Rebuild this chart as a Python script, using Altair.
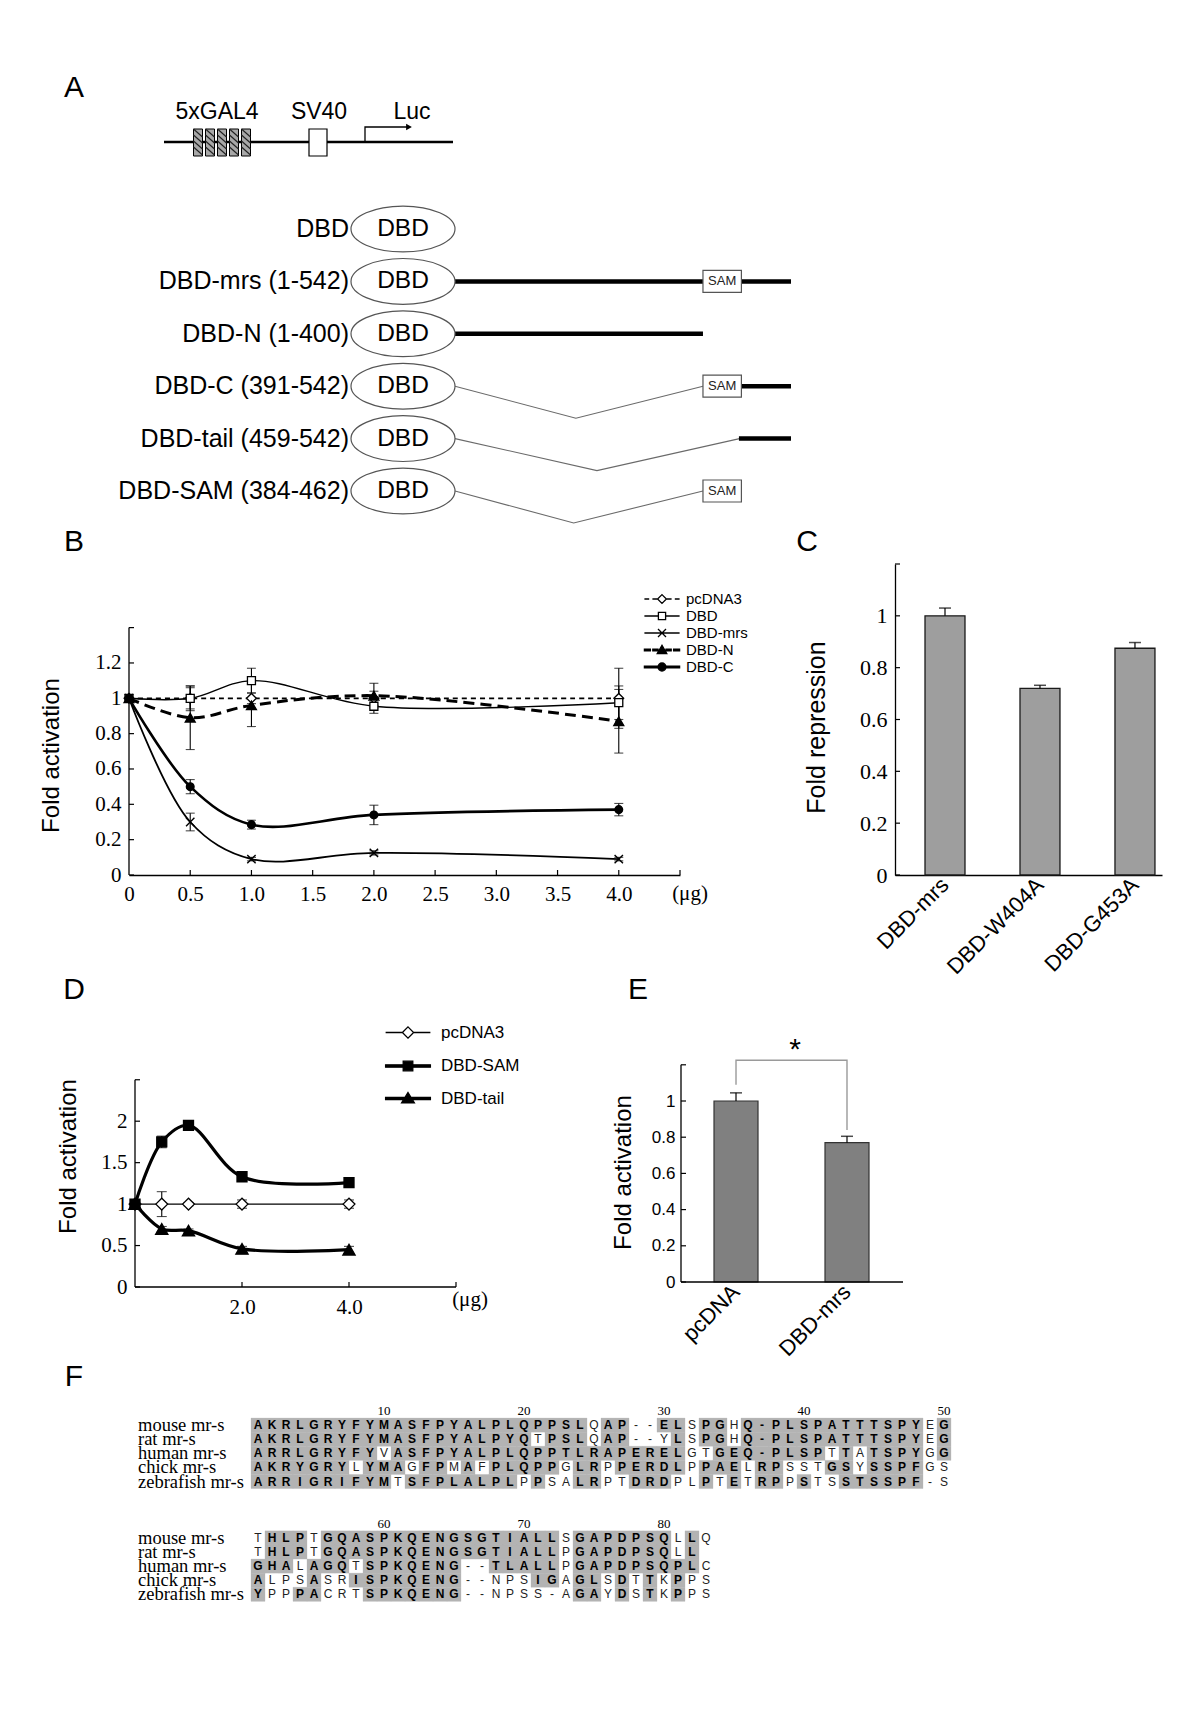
import altair as alt
import pandas as pd

SANS = "Liberation Sans, Arial, Helvetica, sans-serif"
SERIF = "Liberation Serif, Times New Roman, Times, serif"

# ---------------- Panel A : reporter schematic (schematic units) ----------------
REPORTER_SPAN = [35, 324]
GAL4_SITES = [69, 81, 93, 105, 117]
SV40_SPAN = [180, 198]
TSS_POS = 236
ARROW_TIP = 283
REPORTER_TEXT = ["5xGAL4", "SV40", "Luc"]
REPORTER_TEXT_POS = [88, 190, 283]

# ---------------- Panel A : constructs (mr-s residues) ----------------
CONSTRUCT_NAMES = ["DBD", "DBD-mrs (1-542)", "DBD-N (1-400)", "DBD-C (391-542)",
                   "DBD-tail (459-542)", "DBD-SAM (384-462)"]
CONSTRUCT_START = [0, 1, 1, 391, 459, 384]
CONSTRUCT_END = [0, 542, 400, 542, 542, 462]
SAM_DOMAIN = [400, 462]

# ---------------- Panel B ----------------
DOSE_UG = [0, 0.5, 1.0, 2.0, 4.0]
B_SERIES = ["pcDNA3", "DBD", "DBD-mrs", "DBD-N", "DBD-C"]
B_PCDNA3 = [1.0, 1.0, 1.0, 1.0, 1.0]
B_PCDNA3_ERR = [0, 0.07, 0.03, 0.04, 0.17]
B_DBD = [1.0, 1.0, 1.10, 0.955, 0.975]
B_DBD_ERR = [0, 0.06, 0.07, 0.04, 0.095]
B_DBD_MRS = [1.0, 0.30, 0.09, 0.125, 0.09]
B_DBD_MRS_ERR = [0, 0.05, 0.01, 0.012, 0.01]
B_DBD_N = [1.0, 0.89, 0.96, 1.015, 0.87]
B_DBD_N_ERR = [0, 0.18, 0.12, 0.07, 0.18]
B_DBD_C = [1.0, 0.50, 0.285, 0.34, 0.37]
B_DBD_C_ERR = [0, 0.04, 0.025, 0.055, 0.035]
B_X_TICKS = [0, 0.5, 1.0, 1.5, 2.0, 2.5, 3.0, 3.5, 4.0]
B_Y_TICKS = [0, 0.2, 0.4, 0.6, 0.8, 1.0, 1.2]

# ---------------- Panel C ----------------
C_GROUPS = ["DBD-mrs", "DBD-W404A", "DBD-G453A"]
C_VALUES = [1.0, 0.72, 0.875]
C_ERR = [0.03, 0.012, 0.022]
C_Y_TICKS = [0, 0.2, 0.4, 0.6, 0.8, 1.0]

# ---------------- Panel D ----------------
D_SERIES = ["pcDNA3", "DBD-SAM", "DBD-tail"]
D_PCDNA3 = [1.0, 1.0, 1.0, 1.0, 1.0]
D_PCDNA3_ERR = [0, 0.15, 0.02, 0.05, 0.05]
D_DBD_SAM = [1.0, 1.75, 1.95, 1.33, 1.26]
D_DBD_SAM_ERR = [0, 0.07, 0.03, 0.04, 0.03]
D_DBD_TAIL = [1.0, 0.70, 0.68, 0.46, 0.45]
D_DBD_TAIL_ERR = [0, 0.03, 0.02, 0.03, 0.04]
D_X_TICKS = [2.0, 4.0]
D_Y_TICKS = [0, 0.5, 1.0, 1.5, 2.0]

# ---------------- Panel E ----------------
E_GROUPS = ["pcDNA", "DBD-mrs"]
E_VALUES = [1.0, 0.77]
E_ERR = [0.045, 0.035]
E_Y_TICKS = [0, 0.2, 0.4, 0.6, 0.8, 1.0]
E_SIG_GROUPS = ["pcDNA", "pcDNA", "DBD-mrs", "DBD-mrs"]
E_SIG_Y = [1.09, 1.225, 1.225, 0.84]
E_SIG_LABEL = "*"

# ---------------- Panel F ----------------
F_SPECIES = ["mouse mr-s", "rat mr-s", "human mr-s", "chick mr-s", "zebrafish mr-s"]
F_BLOCK1 = [
    "AKRLGRYFYMASFPYALPLQPPSLQAP--ELSPGHQ-PLSPATTTSPYEG",
    "AKRLGRYFYMASFPYALPYQTPSLQAP--YLSPGHQ-PLSPATTTSPYEG",
    "ARRLGRYFYVASFPYALPLQPPTLRAPERELGTGEQ-PLSPTTATSPYGG",
    "AKRYGRYLYMAGFPMAFPLQPPGLRPPERDLPPAELRPSSTGSYSSPFGS",
    "ARRIGRIFYMTSFPLALPLPPSALRPTDRDPLPTETRPPSTSSTSSPF-S",
]
F_BLOCK1_SHADE = [
    "111111111111111111111111" "0" "11" "00" "11" "0" "11" "0" "1" "1" "11111111111" "0" "1",
    "11111111111111111111" "0" "111" "0" "11" "000" "1" "0" "11" "0" "1" "1" "11111111111" "0" "1",
    "111111111" "0" "111111111111111111111" "00" "111" "1" "1111" "0" "1" "0" "1111" "0" "1",
    "1111111" "0" "111" "0" "11" "0" "1" "0" "11111" "0" "11" "0" "11111" "0" "111" "0" "11" "000" "11" "0" "1111" "00",
    "1111111111" "0" "11111111" "0" "1" "00" "11" "00" "111" "00" "1" "0" "1" "0" "11" "0" "1" "00" "111111" "00",
]
F_BLOCK2 = [
    "THLPTGQASPKQENGSGTIALLSGAPDPSQLLQ",
    "THLPTGQASPKQENGSGTIALLPGAPDPSQLL",
    "GHALAGQTSPKQENG--TLALLPGAPDPSQPLC",
    "ALPSASRISPKQENG--NPSIGAGLSDTTKPPS",
    "YPPPACRTSPKQENG--NPSS-AGAYDSTKPPS",
]
F_BLOCK2_SHADE = [
    "0" "111" "0" "11111111111111111" "0" "1111111" "0" "1" "0",
    "0" "111" "0" "11111111111111111" "0" "1111111" "0" "1",
    "111" "0" "111" "0" "1111111" "00" "11111" "0" "111111111" "0",
    "1" "000" "1" "00" "1" "1111111" "00" "000" "11" "0" "11" "0" "1" "0" "1" "0" "1" "00",
    "1" "00" "11" "000" "1111111" "00" "000000" "11" "0" "1" "0" "1" "0" "1" "00",
]
F_BLOCK1_NUMBERS = [10, 20, 30, 40, 50]
F_BLOCK2_NUMBERS = [60, 70, 80]

# ---------------- layout (pixels) ----------------
ROW_GAP, COL_GAP = 163, 1
A_W, A_H = 551, 301
REP_Y, BOX_TOP, BOX_BOT, ARROW_Y, TEXT_Y = 42, 29, 56, 27, 12
K_ORIGIN = 326
K_RES_PX = 336 / 542
K_ROW_PX = 52.4
K_ROW0_PX = 129
K_DIP = 0.61
ELL_W = 104
B_W, B_H, B_UNIT = 551, 311, 176.7
C_W, C_H = 267, 311
D_W, D_H, D_UNIT, D_YUNIT, D_OFF = 320, 249, 53.5, 82.9, 6
E_W, E_H, E_UNIT = 213, 244, 181
F_W, F_H = 551, 160
F_COL_PX, F_LINE_PX, F_LINE0_PX, F_NAME_W = 14, 14.1, -39, 122


def letter(ch, dx, dy):
    return alt.Chart(pd.DataFrame({"t": [ch]})).mark_text(
        font=SANS, fontSize=30, align="center", baseline="middle", color="black"
    ).encode(text="t:N", x=alt.value(dx), y=alt.value(dy))


def spacer(h):
    return alt.Chart(pd.DataFrame({"t": [""]})).mark_text().encode(
        text="t:N", x=alt.value(0), y=alt.value(0)).properties(width=1, height=h)


# ======================= Panel A (reporter + constructs) =======================
px = alt.Scale(domain=[0, A_W], nice=False, zero=False)
py = alt.Scale(domain=[0, A_H], nice=False, zero=False, reverse=True)


def PX(f):
    return alt.X(f, type="quantitative", scale=px, axis=None)


def PY(f):
    return alt.Y(f, type="quantitative", scale=py, axis=None)


rep_line = alt.Chart(pd.DataFrame({"x": [REPORTER_SPAN[0]], "x2": [REPORTER_SPAN[1]], "y": [REP_Y]})).mark_rule(
    strokeWidth=2.6, color="black").encode(x=PX("x"), x2="x2:Q", y=PY("y"))
gal4_df = pd.DataFrame({"x": [s - 4.5 for s in GAL4_SITES], "x2": [s + 4.5 for s in GAL4_SITES],
                        "y": BOX_TOP, "y2": BOX_BOT})
gal4 = alt.Chart(gal4_df).mark_rect(fill="#a8a8a8", stroke="black", strokeWidth=1).encode(
    x=PX("x"), x2="x2:Q", y=PY("y"), y2="y2:Q")
hatch_rows = []
for s in GAL4_SITES:
    for t in range(BOX_TOP, BOX_BOT - 8, 6):
        hatch_rows.append({"x": s - 4.5, "x2": s + 4.5, "y": t, "y2": t + 8})
hatch = alt.Chart(pd.DataFrame(hatch_rows)).mark_rule(color="#222222", strokeWidth=1.1).encode(
    x=PX("x"), x2="x2:Q", y=PY("y"), y2="y2:Q")
sv40 = alt.Chart(pd.DataFrame({"x": [SV40_SPAN[0]], "x2": [SV40_SPAN[1]], "y": [BOX_TOP], "y2": [BOX_BOT]})).mark_rect(
    fill="white", stroke="black", strokeWidth=1.2).encode(x=PX("x"), x2="x2:Q", y=PY("y"), y2="y2:Q")
arrow_df = pd.DataFrame({"x": [TSS_POS, TSS_POS, ARROW_TIP - 5], "y": [REP_Y, ARROW_Y, ARROW_Y], "k": [0, 1, 2]})
arrow = alt.Chart(arrow_df).mark_line(color="black", strokeWidth=1.3).encode(x=PX("x"), y=PY("y"), order="k:Q")
arrow_head = alt.Chart(pd.DataFrame({"x": [ARROW_TIP - 3], "y": [ARROW_Y]})).mark_point(
    shape="triangle-right", filled=True, color="black", size=45, opacity=1).encode(x=PX("x"), y=PY("y"))
rep_text = alt.Chart(pd.DataFrame({"t": REPORTER_TEXT, "x": REPORTER_TEXT_POS, "y": TEXT_Y})).mark_text(
    font=SANS, fontSize=23, baseline="middle", color="black").encode(x=PX("x"), y=PY("y"), text="t:N")

kx = alt.Scale(domain=[-K_ORIGIN / K_RES_PX, (A_W - K_ORIGIN) / K_RES_PX], nice=False, zero=False)
ky = alt.Scale(domain=[-K_ROW0_PX / K_ROW_PX, (A_H - K_ROW0_PX) / K_ROW_PX], nice=False, zero=False,
               reverse=True)


def KX(f):
    return alt.X(f, type="quantitative", scale=kx, axis=None)


def KY(f):
    return alt.Y(f, type="quantitative", scale=ky, axis=None)


rows_df = pd.DataFrame({"name": CONSTRUCT_NAMES, "row": list(range(len(CONSTRUCT_NAMES))), "dbd": "DBD"})
thick, vlines, sams = [], [], []
for i, (s, e) in enumerate(zip(CONSTRUCT_START, CONSTRUCT_END)):
    if e == 0:
        continue
    has_sam = s <= SAM_DOMAIN[0] + 5 and e >= SAM_DOMAIN[1]
    if has_sam:
        sams.append({"row": i, "x": SAM_DOMAIN[0], "x2": SAM_DOMAIN[1],
                     "xm": (SAM_DOMAIN[0] + SAM_DOMAIN[1]) / 2, "y": i - 0.21, "y2": i + 0.21, "t": "SAM"})
        if SAM_DOMAIN[0] - s > 50:
            thick.append({"row": i, "x": s - 1, "x2": e})
        elif e > SAM_DOMAIN[1]:
            thick.append({"row": i, "x": SAM_DOMAIN[1], "x2": e})
        join = SAM_DOMAIN[0]
    else:
        thick.append({"row": i, "x": s - 1, "x2": e})
        join = s
    if s > 1:
        for k, (xx, dy) in enumerate([(0, 0), ((s - 1) / 2, K_DIP), (join, 0)]):
            vlines.append({"row": i, "k": k, "x": xx, "y": i + dy})

k_v = alt.Chart(pd.DataFrame(vlines)).mark_line(color="#6a6a6a", strokeWidth=1.1).encode(
    x=KX("x"), y=KY("y"), detail="row:N", order="k:Q")
k_thick = alt.Chart(pd.DataFrame(thick)).mark_rule(color="black", strokeWidth=4.5, strokeCap="butt").encode(
    x=KX("x"), x2="x2:Q", y=KY("row"))
ELLIPSE = "M-1,0A1,0.44,0,1,1,1,0A1,0.44,0,1,1,-1,0Z"
k_ell = alt.Chart(rows_df).mark_point(shape=ELLIPSE, size=ELL_W * ELL_W, filled=True, fill="white",
                                      stroke="#555555", strokeWidth=1.2, opacity=1).encode(
    x=alt.value(K_ORIGIN - ELL_W / 2), y=KY("row"))
k_dbd = alt.Chart(rows_df).mark_text(font=SANS, fontSize=24.5, baseline="middle", color="black").encode(
    x=alt.value(K_ORIGIN - ELL_W / 2), y=KY("row"), text="dbd:N")
k_lab = alt.Chart(rows_df).mark_text(font=SANS, fontSize=25, align="right", baseline="middle",
                                     color="black").encode(
    x=alt.value(K_ORIGIN - ELL_W - 2), y=KY("row"), text="name:N")
sam_df = pd.DataFrame(sams)
k_sam = alt.Chart(sam_df).mark_rect(fill="white", stroke="#555555", strokeWidth=1.2).encode(
    x=KX("x"), x2="x2:Q", y=KY("y"), y2="y2:Q")
k_samt = alt.Chart(sam_df).mark_text(font=SANS, fontSize=13, baseline="middle", color="#222222").encode(
    x=KX("xm"), y=KY("row"), text="t:N")
A_chart = alt.layer(
    rep_line, gal4, hatch, sv40, arrow, arrow_head, rep_text,
    k_v, k_thick, k_ell, k_dbd, k_lab, k_sam, k_samt, letter("A", -55, -12)
).resolve_scale(x="independent", y="independent").properties(width=A_W, height=A_H)


# ======================= dose-response helpers =======================
def dose_frame(name, vals, errs):
    return pd.DataFrame({"dose": DOSE_UG, "value": vals, "err": errs, "series": name})


def curve_layers(frames, styles, XE, YE, cap):
    lines, errs, pts = [], [], []
    for df, st in zip(frames, styles):
        kw = dict(color="black", strokeWidth=st["width"], interpolate="catmull-rom")
        if st.get("dash"):
            kw["strokeDash"] = st["dash"]
        lines.append(alt.Chart(df).mark_line(**kw).encode(x=XE("dose"), y=YE("value")))
        e = df[df["err"] > 0].copy()
        e["lo"] = e["value"] - e["err"]
        e["hi"] = e["value"] + e["err"]
        errs.append(alt.Chart(e).mark_rule(color="black", strokeWidth=1.1).encode(
            x=XE("dose"), y=YE("lo"), y2="hi:Q"))
        caps = pd.concat([e[["dose"]].assign(cap=e["lo"]), e[["dose"]].assign(cap=e["hi"])])
        errs.append(alt.Chart(caps).mark_tick(orient="horizontal", size=cap, thickness=1.1,
                                              color="black").encode(x=XE("dose"), y=YE("cap")))
        if st["fill"] == "none":
            pts.append(alt.Chart(df).mark_point(shape=st["shape"], size=st["size"], filled=False,
                                                color="black", strokeWidth=1.4, opacity=1).encode(
                x=XE("dose"), y=YE("value")))
        else:
            pts.append(alt.Chart(df).mark_point(shape=st["shape"], size=st["size"], filled=True,
                                                fill=st["fill"], stroke="black", strokeWidth=1.3,
                                                opacity=1).encode(x=XE("dose"), y=YE("value")))
    return lines + errs + pts


def inward_ticks(vals_y, vals_x, XE, YE, h, x0=0):
    out = []
    if vals_y:
        out.append(alt.Chart(pd.DataFrame({"v": vals_y})).mark_rule(color="black", strokeWidth=1.2).encode(
            y=YE("v"), x=alt.value(x0), x2=alt.value(x0 + 5)))
    if vals_x:
        out.append(alt.Chart(pd.DataFrame({"v": vals_x})).mark_rule(color="black", strokeWidth=1.2).encode(
            x=XE("v"), y=alt.value(h), y2=alt.value(h - 5)))
    return out


def legend_layer(series, paths, fills, legend_def):
    n = len(series)
    return alt.Chart(pd.DataFrame({"series": series})).mark_point(
        filled=True, opacity=0, stroke="black", strokeWidth=1.3).encode(
        shape=alt.Shape("series:N", scale=alt.Scale(domain=series, range=paths), legend=legend_def),
        fill=alt.Fill("series:N", scale=alt.Scale(domain=series, range=fills), legend=legend_def),
        stroke=alt.Stroke("series:N", scale=alt.Scale(domain=series, range=["black"] * n), legend=legend_def),
    )


# ======================= Panel B =======================
bxs = alt.Scale(domain=[0, 4.5], nice=False, zero=False)
bys = alt.Scale(domain=[0, B_H / B_UNIT], nice=False, zero=False)
b_xaxis = alt.Axis(values=B_X_TICKS, labelExpr="datum.value == 0 ? '0' : format(datum.value, '.1f')",
                   domain=True, domainColor="black", domainWidth=1.3, ticks=False, grid=False,
                   labelFont=SERIF, labelFontSize=21, labelColor="black", labelPadding=8,
                   labelFlush=False, labelOverlap=False, title=None)
b_yaxis = alt.Axis(values=B_Y_TICKS, format=".1~f", domain=False, ticks=False, grid=False,
                   labelFont=SERIF, labelFontSize=21, labelColor="black", labelPadding=8,
                   labelOverlap=False, title="Fold activation", titleFont=SANS, titleFontSize=24,
                   titleFontWeight="normal", titleColor="black", titleX=-78, titleY=191,
                   titleAlign="center", titleBaseline="middle", titleAngle=-90)


def BX(f):
    return alt.X(f, type="quantitative", scale=bxs, axis=b_xaxis)


def BY(f):
    return alt.Y(f, type="quantitative", scale=bys, axis=b_yaxis)


X_PATH = "M-1,-1L1,1M-1,1L1,-1"
B_STYLES = [
    dict(dash=[5, 4], width=1.8, shape="diamond", size=95, fill="white"),
    dict(dash=None, width=1.4, shape="square", size=64, fill="white"),
    dict(dash=None, width=1.8, shape=X_PATH, size=70, fill="none"),
    dict(dash=[11, 6], width=3.0, shape="triangle-up", size=100, fill="black"),
    dict(dash=None, width=2.6, shape="circle", size=60, fill="black"),
]
b_frames = [dose_frame(n, v, e) for n, v, e in zip(
    B_SERIES, [B_PCDNA3, B_DBD, B_DBD_MRS, B_DBD_N, B_DBD_C],
    [B_PCDNA3_ERR, B_DBD_ERR, B_DBD_MRS_ERR, B_DBD_N_ERR, B_DBD_C_ERR])]

B_LEGEND_PATHS = [
    "M-2.2,0H-1.6M-1.2,0H-0.6M0.6,0H1.2M1.6,0H2.2M0,-0.55L0.55,0L0,0.55L-0.55,0Z",
    "M-2.2,0H-0.45M0.45,0H2.2M-0.45,-0.45H0.45V0.45H-0.45Z",
    "M-2.2,0H2.2M-0.5,-0.5L0.5,0.5M-0.5,0.5L0.5,-0.5",
    "M-2.2,-0.12H-1.45V0.12H-2.2Z M-1.15,-0.12H-0.5V0.12H-1.15Z M0.5,-0.12H1.15V0.12H0.5Z "
    "M1.45,-0.12H2.2V0.12H1.45Z M0,-0.6L0.6,0.45L-0.6,0.45Z",
    "M-2.2,-0.12H2.2V0.12H-2.2Z M-0.5,0A0.5,0.5,0,1,1,0.5,0A0.5,0.5,0,1,1,-0.5,0Z",
]
B_LEGEND_FILLS = ["white", "white", "white", "black", "black"]
b_leg_def = alt.Legend(orient="none", legendX=524, legendY=26, title=None, symbolSize=256,
                       symbolStrokeWidth=1.3, symbolOpacity=1,
                       labelFont=SANS, labelFontSize=15, labelColor="black", labelOffset=15,
                       rowPadding=0, padding=0)
b_dom = alt.Chart(pd.DataFrame({"lo": [0], "hi": [1.4]})).mark_rule(color="black", strokeWidth=1.3).encode(
    x=alt.value(0), y=BY("lo"), y2="hi:Q")
b_mu = alt.Chart(pd.DataFrame({"t": ["(μg)"]})).mark_text(font=SERIF, fontSize=21, baseline="top",
                                                          dx=10, color="black").encode(
    x=alt.X(datum=4.5, type="quantitative", scale=bxs, axis=b_xaxis), y=alt.value(B_H + 8), text="t:N")
B_chart = alt.layer(
    *curve_layers(b_frames, B_STYLES, BX, BY, 9),
    b_dom, *inward_ticks(B_Y_TICKS + [1.4], [0.5, 1, 1.5, 2, 2.5, 3, 3.5, 4, 4.5], BX, BY, B_H),
    b_mu, letter("B", -55, -22),
    legend_layer(B_SERIES, B_LEGEND_PATHS, B_LEGEND_FILLS, b_leg_def),
).properties(width=B_W, height=B_H)

# ======================= Panel C =======================
cxs = alt.Scale(domain=C_GROUPS, paddingInner=0.579, paddingOuter=0.195, align=0.81)
cys = alt.Scale(domain=[0, 1.2], nice=False, zero=False)
c_xaxis = alt.Axis(labelAngle=-45, labelAlign="right", labelBaseline="middle", labelFont=SANS,
                   labelFontSize=22, labelColor="black", labelPadding=6, ticks=False, domain=True,
                   domainColor="black", domainWidth=1.3, title=None, labelLimit=300, grid=False)
c_yaxis = alt.Axis(values=C_Y_TICKS, format=".1~f", domain=True, domainColor="black", domainWidth=1.3,
                   ticks=False, grid=False, labelFont=SERIF, labelFontSize=22, labelColor="black",
                   labelPadding=8, title="Fold repression", titleFont=SANS, titleFontSize=25,
                   titleFontWeight="normal", titleColor="black", titleX=-79, titleY=163,
                   titleAlign="center", titleBaseline="middle", titleAngle=-90)


def CX(f):
    return alt.X(f, type="nominal", scale=cxs, axis=c_xaxis)


def CY(f):
    return alt.Y(f, type="quantitative", scale=cys, axis=c_yaxis)


c_df = pd.DataFrame({"g": C_GROUPS, "v": C_VALUES, "e": C_ERR})
c_df["hi"] = c_df["v"] + c_df["e"]
c_bars = alt.Chart(c_df).mark_bar(fill="#9e9e9e", stroke="#1a1a1a", strokeWidth=1.3).encode(
    x=CX("g"), y=CY("v"))
c_err = alt.Chart(c_df).mark_rule(color="black", strokeWidth=1.2).encode(x=CX("g"), y=CY("v"), y2="hi:Q")
c_cap = alt.Chart(c_df).mark_tick(orient="horizontal", size=12, thickness=1.5, color="black").encode(
    x=CX("g"), y=CY("hi"))
C_chart = alt.layer(
    c_bars, c_err, c_cap, *inward_ticks(C_Y_TICKS + [1.2], None, CX, CY, C_H), letter("C", -88, -22)
).properties(width=C_W, height=C_H)

# ======================= Panel D =======================
dxs = alt.Scale(domain=[-D_OFF / D_UNIT, (D_W - D_OFF) / D_UNIT], nice=False, zero=False)
dys = alt.Scale(domain=[0, D_H / D_YUNIT], nice=False, zero=False)
d_xaxis = alt.Axis(values=D_X_TICKS, format=".1f", domain=False, ticks=False, grid=False,
                   labelFont=SERIF, labelFontSize=21, labelColor="black",
                   labelPadding=9, labelFlush=False, labelOverlap=False, title=None)
d_yaxis = alt.Axis(values=D_Y_TICKS, format=".1~f", domain=False, ticks=False, grid=False,
                   offset=-D_OFF, labelFont=SERIF, labelFontSize=21, labelColor="black",
                   labelPadding=8, labelOverlap=False, title="Fold activation", titleFont=SANS,
                   titleFontSize=24, titleFontWeight="normal", titleColor="black", titleX=-67, titleY=118,
                   titleAlign="center", titleBaseline="middle", titleAngle=-90)


def DX(f):
    return alt.X(f, type="quantitative", scale=dxs, axis=d_xaxis)


def DY(f):
    return alt.Y(f, type="quantitative", scale=dys, axis=d_yaxis)


D_STYLES = [
    dict(dash=None, width=1.4, shape="diamond", size=140, fill="white"),
    dict(dash=None, width=3.2, shape="square", size=100, fill="black"),
    dict(dash=None, width=3.2, shape="triangle-up", size=150, fill="black"),
]
d_frames = [dose_frame(n, v, e) for n, v, e in zip(
    D_SERIES, [D_PCDNA3, D_DBD_SAM, D_DBD_TAIL], [D_PCDNA3_ERR, D_DBD_SAM_ERR, D_DBD_TAIL_ERR])]
D_LEGEND_PATHS = [
    "M-2.8,0H-0.7M0.7,0H2.8M0,-0.7L0.7,0L0,0.7L-0.7,0Z",
    "M-2.8,-0.15H2.8V0.15H-2.8Z M-0.6,-0.6H0.6V0.6H-0.6Z",
    "M-2.8,-0.15H2.8V0.15H-2.8Z M0,-0.75L0.8,0.55L-0.8,0.55Z",
]
D_LEGEND_FILLS = ["white", "black", "black"]
d_leg_def = alt.Legend(orient="none", legendX=270, legendY=-14.5, title=None, symbolSize=256,
                       symbolStrokeWidth=1.3, symbolOpacity=1,
                       labelFont=SANS, labelFontSize=17, labelColor="black", labelOffset=24,
                       rowPadding=15.5, padding=0)
d_xdom = alt.Chart(pd.DataFrame({"lo": [0], "hi": [6]})).mark_rule(color="black", strokeWidth=1.3).encode(
    y=alt.value(D_H), x=DX("lo"), x2="hi:Q")
d_ydom = alt.Chart(pd.DataFrame({"lo": [0], "hi": [2.5]})).mark_rule(color="black", strokeWidth=1.3).encode(
    x=alt.value(D_OFF), y=DY("lo"), y2="hi:Q")
d_mu = alt.Chart(pd.DataFrame({"t": ["(μg)"]})).mark_text(font=SERIF, fontSize=21, baseline="top",
                                                          dx=14, color="black").encode(
    x=alt.X(datum=6, type="quantitative", scale=dxs, axis=d_xaxis), y=alt.value(D_H + 2), text="t:N")
D_chart = alt.layer(
    *curve_layers(d_frames, D_STYLES, DX, DY, 10),
    d_xdom, d_ydom, *inward_ticks([0, 0.5, 1.0, 1.5, 2.0, 2.5], [2, 4, 6], DX, DY, D_H, D_OFF),
    d_mu, letter("D", -55, -48),
    legend_layer(D_SERIES, D_LEGEND_PATHS, D_LEGEND_FILLS, d_leg_def),
).properties(width=D_W, height=D_H)

# ======================= Panel E =======================
exs = alt.Scale(domain=E_GROUPS, paddingInner=0.6036, paddingOuter=0.2613, align=0.569)
eys = alt.Scale(domain=[0, E_H / E_UNIT], nice=False, zero=False)
e_xaxis = alt.Axis(labelAngle=-45, labelAlign="right", labelBaseline="middle", labelFont=SANS,
                   labelFontSize=22, labelColor="black", labelPadding=6, ticks=False, domain=False,
                   title=None, labelLimit=300, grid=False)
e_yaxis = alt.Axis(values=E_Y_TICKS, format=".1~f", domain=False, ticks=False, grid=False,
                   labelFont=SANS, labelFontSize=17, labelColor="black", labelPadding=6,
                   title="Fold activation", titleFont=SANS, titleFontSize=24, titleFontWeight="normal",
                   titleColor="black", titleX=-58, titleY=134, titleAlign="center",
                   titleBaseline="middle", titleAngle=-90)


def EX(f):
    return alt.X(f, type="nominal", scale=exs, axis=e_xaxis)


def EY(f):
    return alt.Y(f, type="quantitative", scale=eys, axis=e_yaxis)


e_df = pd.DataFrame({"g": E_GROUPS, "v": E_VALUES, "e": E_ERR})
e_df["hi"] = e_df["v"] + e_df["e"]
e_bars = alt.Chart(e_df).mark_bar(fill="#808080", stroke="#333333", strokeWidth=1.2).encode(
    x=EX("g"), y=EY("v"))
e_err = alt.Chart(e_df).mark_rule(color="black", strokeWidth=1.2).encode(x=EX("g"), y=EY("v"), y2="hi:Q")
e_cap = alt.Chart(e_df).mark_tick(orient="horizontal", size=12, thickness=1.5, color="black").encode(
    x=EX("g"), y=EY("hi"))
e_dom = alt.Chart(pd.DataFrame({"lo": [0], "hi": [1.2]})).mark_rule(color="black", strokeWidth=1.3).encode(
    x=alt.value(0), y=EY("lo"), y2="hi:Q")
e_base = alt.Chart(pd.DataFrame({"lo": [0]})).mark_rule(color="black", strokeWidth=1.3).encode(
    x=alt.value(0), x2=alt.value(222), y=EY("lo"))
e_sig = alt.Chart(pd.DataFrame({"g": E_SIG_GROUPS, "y": E_SIG_Y, "k": [0, 1, 2, 3]})).mark_line(
    color="#9a9a9a", strokeWidth=1.4).encode(x=EX("g"), y=EY("y"), order="k:Q")
e_star = alt.Chart(pd.DataFrame({"t": [E_SIG_LABEL]})).mark_text(
    font=SANS, fontSize=30, baseline="alphabetic", color="black").encode(
    x=alt.value(114), y=alt.Y(datum=1.232, type="quantitative", scale=eys, axis=e_yaxis), text="t:N")
E_chart = alt.layer(
    e_bars, e_err, e_cap, e_dom, e_base, e_sig, e_star,
    *inward_ticks(E_Y_TICKS + [1.2], None, EX, EY, E_H), letter("E", -43, -48)
).properties(width=E_W, height=E_H)

# ======================= Panel F =======================
F_X0 = 0.5 - F_NAME_W / F_COL_PX
fxs = alt.Scale(domain=[F_X0, F_X0 + F_W / F_COL_PX], nice=False, zero=False)
fys = alt.Scale(domain=[-F_LINE0_PX / F_LINE_PX, (F_H - F_LINE0_PX) / F_LINE_PX], nice=False, zero=False,
                reverse=True)


def FX(f):
    return alt.X(f, type="quantitative", scale=fxs, axis=None)


def FY(f):
    return alt.Y(f, type="quantitative", scale=fys, axis=None)


cells, names, nums = [], [], []
for first_line, seqs, masks, numbers in [(1, F_BLOCK1, F_BLOCK1_SHADE, F_BLOCK1_NUMBERS),
                                         (9, F_BLOCK2, F_BLOCK2_SHADE, F_BLOCK2_NUMBERS)]:
    for r, (seq, mask) in enumerate(zip(seqs, masks)):
        names.append({"name": F_SPECIES[r], "line": first_line + r})
        for c, (ch, m) in enumerate(zip(seq, mask)):
            cells.append({"col": c + 1, "line": first_line + r, "ch": ch, "shade": m == "1",
                          "x0": c + 0.5, "x1": c + 1.5, "y0": first_line + r - 0.5, "y1": first_line + r + 0.5})
    for j, n in enumerate(numbers):
        nums.append({"t": str(n), "col": (j + 1) * 10, "line": first_line - 1})
cells_df = pd.DataFrame(cells)
shaded = cells_df[cells_df["shade"]]
plain = cells_df[~cells_df["shade"]]
f_rect = alt.Chart(shaded).mark_rect(fill="#b3b3b3", stroke="#b3b3b3", strokeWidth=0.3).encode(
    x=FX("x0"), x2="x1:Q", y=FY("y0"), y2="y1:Q")
f_bold = alt.Chart(shaded).mark_text(font=SANS, fontSize=12, fontWeight="bold", color="black",
                                     baseline="middle").encode(x=FX("col"), y=FY("line"), text="ch:N")
f_plain = alt.Chart(plain).mark_text(font=SANS, fontSize=12, color="#222222", baseline="middle").encode(
    x=FX("col"), y=FY("line"), text="ch:N")
f_nums = alt.Chart(pd.DataFrame(nums)).mark_text(font=SERIF, fontSize=13, color="black",
                                                 baseline="middle").encode(x=FX("col"), y=FY("line"),
                                                                           text="t:N")
f_names = alt.Chart(pd.DataFrame(names)).mark_text(font=SERIF, fontSize=18.5, color="black", align="left",
                                                   baseline="middle").encode(
    x=alt.value(9), y=FY("line"), text="name:N")
F_chart = alt.layer(f_rect, f_bold, f_plain, f_nums, f_names, letter("F", -55, -73)).properties(
    width=F_W, height=F_H)

# ======================= assemble (3-column grid) =======================
chart = alt.concat(
    A_chart, spacer(A_H), spacer(A_H),
    B_chart, spacer(B_H), C_chart,
    D_chart, E_chart, spacer(D_H),
    F_chart, spacer(F_H), spacer(F_H),
    columns=3, spacing={"row": ROW_GAP, "column": COL_GAP}, bounds="flush", align="each",
).resolve_scale(shape="independent", fill="independent", stroke="independent").resolve_legend(
    shape="independent", fill="independent", stroke="independent"
).properties(
    padding={"left": 31, "top": 65, "right": 10, "bottom": 10}, background="white"
).configure_view(stroke=None)

chart.save("out.html", embed_options={"renderer": "svg", "actions": False})
